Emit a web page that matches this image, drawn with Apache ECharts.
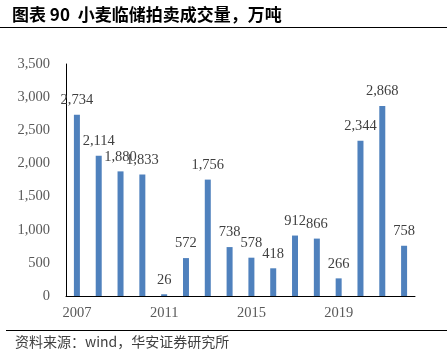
<!DOCTYPE html>
<html><head><meta charset="utf-8">
<script src="https://cdn.jsdelivr.net/npm/echarts@6/dist/echarts.min.js"></script>
<style>html,body{margin:0;padding:0;background:#fff}#c{width:447px;height:357px}</style>
</head><body><div id="c"></div>
<script>
var years = ['2007','2008','2009','2010','2011','2012','2013','2014','2015','2016','2017','2018','2019','2020','2021','2022'];
var volumes = [2734, 2114, 1880, 1833, 26, 572, 1756, 738, 578, 418, 912, 866, 266, 2344, 2868, 758];
var yTicks = { min: 0, max: 3500, interval: 500 };
var titleText = '图表 90  小麦临储拍卖成交量，万吨';
var sourceText = '资料来源：wind，华安证券研究所';

function fmt(v){ return String(v).replace(/\B(?=(\d{3})+(?!\d))/g, ','); }

var chart = echarts.init(document.getElementById('c'), null, {renderer:'canvas'});
chart.setOption({
  animation: false,
  backgroundColor: '#fff',
  grid: { left: 66, right: 32, top: 64, bottom: 61 },
  graphic: [
    { type:'text', left: 12, top: 6, style:{ text: titleText, font:'bold 17px "Noto Sans CJK SC", sans-serif', fill:'#000' } },
    { type:'line', shape:{ x1:0, y1:27.5, x2:447, y2:27.5 }, style:{ stroke:'#000', lineWidth:1 } },
    { type:'line', shape:{ x1:6, y1:330.5, x2:447, y2:330.5 }, style:{ stroke:'#000', lineWidth:1 } },
    { type:'text', left: 15, top: 335, style:{ text: sourceText, font:'14px "Noto Sans CJK SC", sans-serif', fill:'#404040' } }
  ],
  xAxis: {
    type:'category', data: years,
    axisLine:{ lineStyle:{ color:'#000', width:1 } },
    axisTick:{ show:false },
    axisLabel:{ interval:3, color:'#595959', fontFamily:'"Liberation Serif", serif', fontSize:14.5, margin:10 }
  },
  yAxis: {
    type:'value', min: yTicks.min, max: yTicks.max, interval: yTicks.interval,
    splitLine:{ show:false },
    axisLine:{ show:true, lineStyle:{ color:'#000', width:1 } },
    axisTick:{ show:false },
    axisLabel:{ color:'#595959', fontFamily:'"Liberation Serif", serif', fontSize:14.5, margin:16, formatter: fmt }
  },
  series: [{
    type:'bar', data: volumes, barWidth: 6,
    itemStyle:{ color:'#4F81BD' },
    label:{ show:true, position:'top', distance:7, color:'#404040', fontFamily:'"Liberation Serif", serif', fontSize:14.5,
      formatter: function(p){ return fmt(p.value); } }
  }]
});
</script></body></html>
